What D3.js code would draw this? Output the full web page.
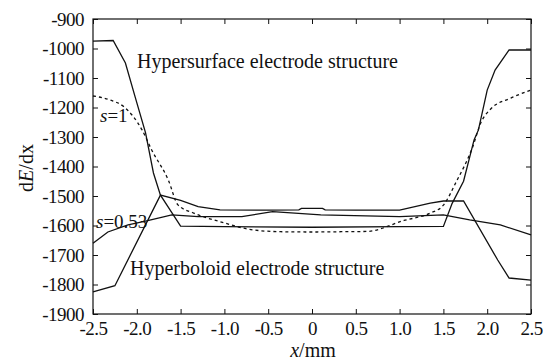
<!DOCTYPE html>
<html>
<head>
<meta charset="utf-8">
<script src="https://cdn.jsdelivr.net/npm/d3@7"></script>
<style>
  body { margin: 0; background: #fff; }
  svg { display: block; }
  text { font-family: "Liberation Serif", "Times New Roman", serif; fill: #111; }
</style>
</head>
<body>
<div id="chart"></div>
<script>
// hypersurface electrode structure (solid)
const hsX = [-2.5, -2.27, -2.13, -2.02, -1.9, -1.81, -1.73, -1.5, -1.0, 0, 1.0, 1.5, 1.6, 1.73, 1.85, 1.9, 2.0, 2.09, 2.25, 2.5];
const hsY = [-975, -973, -1049, -1163, -1286, -1422, -1497, -1602, -1604, -1606, -1604, -1603, -1525, -1450, -1310, -1276, -1141, -1073, -1005, -1005];

// hyperboloid electrode structure (solid)
const hbX = [-2.5, -2.25, -1.73, -1.5, -1.3, -1.05, -0.5, -0.15, -0.12, 0.12, 0.15, 0.5, 1.0, 1.35, 1.5, 1.73, 2.12, 2.25, 2.5];
const hbY = [-1825, -1804, -1497, -1515, -1536, -1547, -1548, -1547, -1542, -1542, -1547, -1548, -1548, -1524, -1517, -1517, -1717, -1778, -1785];

// s = 0.53 (solid)
const s53X = [-2.5, -2.33, -2.1, -1.9, -1.6, -1.3, -0.8, -0.45, 0.1, 1.0, 1.5, 1.8, 2.15, 2.5];
const s53Y = [-1660, -1622, -1598, -1585, -1564, -1570, -1570, -1553, -1564, -1570, -1564, -1581, -1598, -1632];

// s = 1 (dashed)
const s1X = [-2.5, -2.3, -2.15, -1.94, -1.83, -1.64, -1.53, -1.35, -1.05, -0.67, -0.36, 0, 0.36, 0.63, 1.05, 1.35, 1.5, 1.65, 1.83, 1.93, 2.04, 2.27, 2.5];
const s1Y = [-1161, -1175, -1197, -1276, -1344, -1446, -1530, -1558, -1587, -1615, -1621, -1622, -1621, -1620, -1583, -1558, -1531, -1450, -1337, -1250, -1205, -1168, -1141];

const xTicks = [-2.5, -2.0, -1.5, -1.0, -0.5, 0, 0.5, 1.0, 1.5, 2.0, 2.5];
const xTickLabels = ["-2.5", "-2.0", "-1.5", "-1.0", "-0.5", "0", "0.5", "1.0", "1.5", "2.0", "2.5"];
const yTicks = [-900, -1000, -1100, -1200, -1300, -1400, -1500, -1600, -1700, -1800, -1900];
const yTickLabels = ["-900", "-1000", "-1100", "-1200", "-1300", "-1400", "-1500", "-1600", "-1700", "-1800", "-1900"];

const serif = "'Liberation Serif', 'Times New Roman', serif";

let margin = { top: 19, right: 12, bottom: 48, left: 93 },
  width = 543 - margin.left - margin.right,
  height = 362 - margin.top - margin.bottom;

let svg = d3.select("#chart")
  .append("svg")
  .attr("width", 543)
  .attr("height", 362)
  .append("g")
  .attr("transform", "translate(" + margin.left + "," + margin.top + ")");

let x = d3.scaleLinear().domain([-2.5, 2.5]).range([0, width]);
let y = d3.scaleLinear().domain([-1900, -900]).range([height, 0]);

// axes: inward ticks on all four sides
let xAxisCall = d3.axisBottom(x)
  .tickValues(xTicks)
  .tickFormat((d, i) => xTickLabels[i])
  .tickSizeInner(-5).tickSizeOuter(0).tickPadding(8);
let gx = svg.append("g")
  .attr("transform", "translate(0," + height + ")")
  .call(xAxisCall);

let yAxisCall = d3.axisLeft(y)
  .tickValues(yTicks)
  .tickFormat((d, i) => yTickLabels[i])
  .tickSizeInner(-5).tickSizeOuter(0).tickPadding(9);
let gy = svg.append("g").call(yAxisCall);

let gt = svg.append("g").call(d3.axisTop(x).tickValues(xTicks).tickFormat("").tickSizeInner(-5).tickSizeOuter(0));
let gr = svg.append("g").attr("transform", "translate(" + width + ",0)")
  .call(d3.axisRight(y).tickValues(yTicks).tickFormat("").tickSizeInner(-5).tickSizeOuter(0));

[gx, gy, gt, gr].forEach(g => {
  g.attr("font-family", null).attr("font-size", null);
  g.select(".domain").remove();
  g.selectAll(".tick line").attr("stroke", "#111");
  g.selectAll("text")
    .style("font-family", serif)
    .style("font-size", "19px")
    .style("letter-spacing", "-0.5px")
    .attr("fill", "#111");
});

svg.append("rect")
  .attr("width", width)
  .attr("height", height)
  .attr("fill", "none")
  .attr("stroke", "#111")
  .attr("stroke-width", 1.2);

const toPts = (xs, ys) => xs.map((v, i) => ({ x: v, y: ys[i] }));
let line = d3.line().x(d => x(d.x)).y(d => y(d.y));
let smooth = d3.line().x(d => x(d.x)).y(d => y(d.y)).curve(d3.curveMonotoneX);

[toPts(hsX, hsY), toPts(hbX, hbY), toPts(s53X, s53Y)].forEach(pts => {
  svg.append("path")
    .datum(pts)
    .attr("fill", "none")
    .attr("stroke", "#111")
    .attr("stroke-width", 1.3)
    .attr("d", line);
});

svg.append("path")
  .datum(toPts(s1X, s1Y))
  .attr("fill", "none")
  .attr("stroke", "#111")
  .attr("stroke-width", 1.3)
  .attr("stroke-dasharray", "3,3")
  .attr("d", smooth);

// annotations
svg.append("text")
  .attr("x", 137 - margin.left).attr("y", 68 - margin.top)
  .style("font-size", "20px")
  .text("Hypersurface electrode structure");

svg.append("text")
  .attr("x", 130 - margin.left).attr("y", 275 - margin.top)
  .style("font-size", "20px")
  .text("Hyperboloid electrode structure");

let t1 = svg.append("text")
  .attr("x", 100 - margin.left).attr("y", 122 - margin.top)
  .style("font-size", "19px");
t1.append("tspan").style("font-style", "italic").text("s");
t1.append("tspan").text("=1");

let t2 = svg.append("text")
  .attr("x", 96 - margin.left).attr("y", 228 - margin.top)
  .style("font-size", "19px");
t2.append("tspan").style("font-style", "italic").text("s");
t2.append("tspan").text("=0.53");

// axis titles
let xt = svg.append("text")
  .attr("x", 313 - margin.left).attr("y", 357 - margin.top)
  .style("text-anchor", "middle")
  .style("font-size", "20px");
xt.append("tspan").style("font-style", "italic").text("x");
xt.append("tspan").text("/mm");

let yt = svg.append("text")
  .attr("transform", "translate(" + (33 - margin.left) + "," + (168 - margin.top) + ") rotate(-90)")
  .style("text-anchor", "middle")
  .style("font-size", "20px");
yt.append("tspan").text("d");
yt.append("tspan").style("font-style", "italic").text("E");
yt.append("tspan").text("/dx");
</script>
</body>
</html>
